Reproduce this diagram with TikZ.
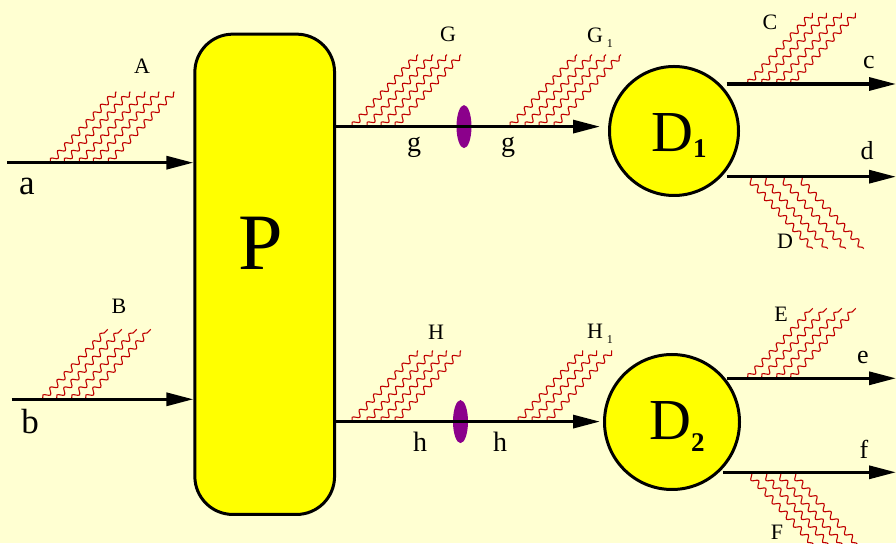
\documentclass[tikz,border=0pt]{standalone}
\usepackage{fontspec}
\setmainfont{Liberation Serif}
\usetikzlibrary{positioning,arrows.meta,calc,shapes.geometric,decorations.pathmorphing}
\definecolor{paper}{HTML}{FFFFD2}
\definecolor{blockfill}{HTML}{FFFF00}
\definecolor{lens}{HTML}{8B008B}
\definecolor{glue}{HTML}{C00000}

\begin{document}
\begin{tikzpicture}[
    x=1pt, y=1pt, >={Triangle[length=27pt,width=13pt]},
    flow/.style={->, line width=3.2pt, draw=black},
    block/.style={draw=black, line width=3pt, fill=blockfill, rounded corners=38pt,
                  minimum width=139.7pt, minimum height=480.3pt, inner sep=0pt},
    blob/.style={circle, draw=black, line width=3pt, fill=blockfill, inner sep=0pt},
    cut/.style={ellipse, fill=lens, minimum width=15pt, minimum height=43pt, inner sep=0pt},
    wave/.style={draw=glue, line width=1.1pt, decorate,
                 decoration={snake, amplitude=2.8pt, segment length=10.5pt}},
    caplab/.style={font=\fontsize{22}{26}\selectfont, inner sep=0pt},
    outlab/.style={font=\fontsize{26}{30}\selectfont, inner sep=0pt},
    midlab/.style={font=\fontsize{28}{32}\selectfont, inner sep=0pt},
    inlab/.style={font=\fontsize{35}{40}\selectfont, inner sep=0pt},
  ]

  % ---- page
  \fill[paper] (0,0) rectangle (896,543);
  \useasboundingbox (0,0) rectangle (896,543);

  % ---- blocks
  \node[block] (P) at (264.7,268.7) {};
  \node[font=\fontsize{80}{90}\selectfont, inner sep=0pt] (Ptext) at (260.5,299.5) {P};
  \node[blob, minimum size=129pt] (D1) at (674,412) {};
  \node[blob, minimum size=135pt] (D2) at (672,121) {};
  \node[font=\fontsize{58}{64}\selectfont, inner sep=0pt, anchor=base west] (D1text) at (651,391)
        {D\raisebox{-6pt}{\fontsize{27}{27}\selectfont\bfseries 1}};
  \node[font=\fontsize{58}{64}\selectfont, inner sep=0pt, anchor=base west] (D2text) at (649,103)
        {D\raisebox{-12pt}{\fontsize{27}{27}\selectfont\bfseries 2}};
  \node[cut] (gcut) at (464,416.4) {};
  \node[cut] (hcut) at (460.5,121.4) {};

  % ---- inputs
  \coordinate (ain) at (7.3,380.3);
  \coordinate (bin) at (11.7,143.7);
  \foreach \s in {43,57,72,86,101} \draw[wave] ($(ain)+(\s,0)$) -- ++(66,71);
  \foreach \s in {31,45,60,74} \draw[wave] ($(bin)+(\s,0)$) -- ++(65,70);
  \draw[flow] (ain) -- (ain -| P.west);
  \draw[flow] (bin) -- (bin -| P.west);
  \node[inlab] (alab) at (27,356.5) {a};
  \node[inlab] (blab) at (30,121.5) {b};
  \node[caplab] (Alab) at (142,476.5) {A};
  \node[caplab] (Blab) at (119,236.5) {B};

  % ---- middle lines through the cuts
  \foreach \s in {352,367,381,395} \draw[wave] (\s,416.4) -- ++(66,72);
  \foreach \s in {510,525,539,554} \draw[wave] (\s,416.4) -- ++(67,72);
  \foreach \s in {352,367,381,395} \draw[wave] (\s,121.4) -- ++(66,71);
  \foreach \s in {518,532,547} \draw[wave] (\s,121.4) -- ++(65,71);
  \draw[flow, shorten >=8pt] (P.east |- gcut) -- (gcut -| D1.west);
  \draw[flow, shorten >=3pt] (P.east |- hcut) -- (hcut -| D2.west);
  \node[midlab] (g1lab) at (414,396) {g};
  \node[midlab] (g2lab) at (508,396) {g};
  \node[midlab] (h1lab) at (420,101) {h};
  \node[midlab] (h2lab) at (500,101) {h};
  \node[caplab] (Glab) at (448,508.5) {G};
  \node[caplab] (Hlab) at (436,211) {H};
  \node[caplab, anchor=base west] (G1lab) at (587,500.7)
        {G\,\raisebox{-5pt}{\fontsize{12}{12}\selectfont 1}};
  \node[caplab, anchor=base west] (H1lab) at (587,204)
        {H\,\raisebox{-5pt}{\fontsize{12}{12}\selectfont 1}};

  % ---- outputs
  \coordinate (cout) at (726.7,459);
  \coordinate (dout) at (726.7,366.3);
  \coordinate (eout) at (726.7,164.7);
  \coordinate (fout) at (723.3,70.7);
  \foreach \s in {21,35,50,64} \draw[wave] ($(cout)+(\s,0)$) -- ++(65,71);
  \foreach \s in {20,35,53,71} \draw[wave] ($(dout)+(\s,0)$) -- ++(66,-72);
  \foreach \s in {21,35,50,64} \draw[wave] ($(eout)+(\s,0)$) -- ++(65,70);
  \foreach \s in {24,39,53,68} \draw[wave] ($(fout)+(\s,0)$) -- ++(66,-72);
  \draw[flow] (cout) -- ++(169.3,0);
  \draw[flow] (dout) -- ++(169.3,0);
  \draw[flow] (eout) -- ++(169.3,0);
  \draw[flow] (fout) -- ++(172.7,0);
  \node[outlab] (clab) at (869,480) {c};
  \node[outlab] (dlab) at (867,392) {d};
  \node[outlab] (elab) at (863,185) {e};
  \node[outlab] (flab) at (864,94) {f};
  \node[caplab] (Clab) at (770,520.5) {C};
  \node[caplab] (Dlab) at (785,302) {D};
  \node[caplab] (Elab) at (781,229) {E};
  \node[caplab] (Flab) at (777,11) {F};
\end{tikzpicture}
\end{document}
